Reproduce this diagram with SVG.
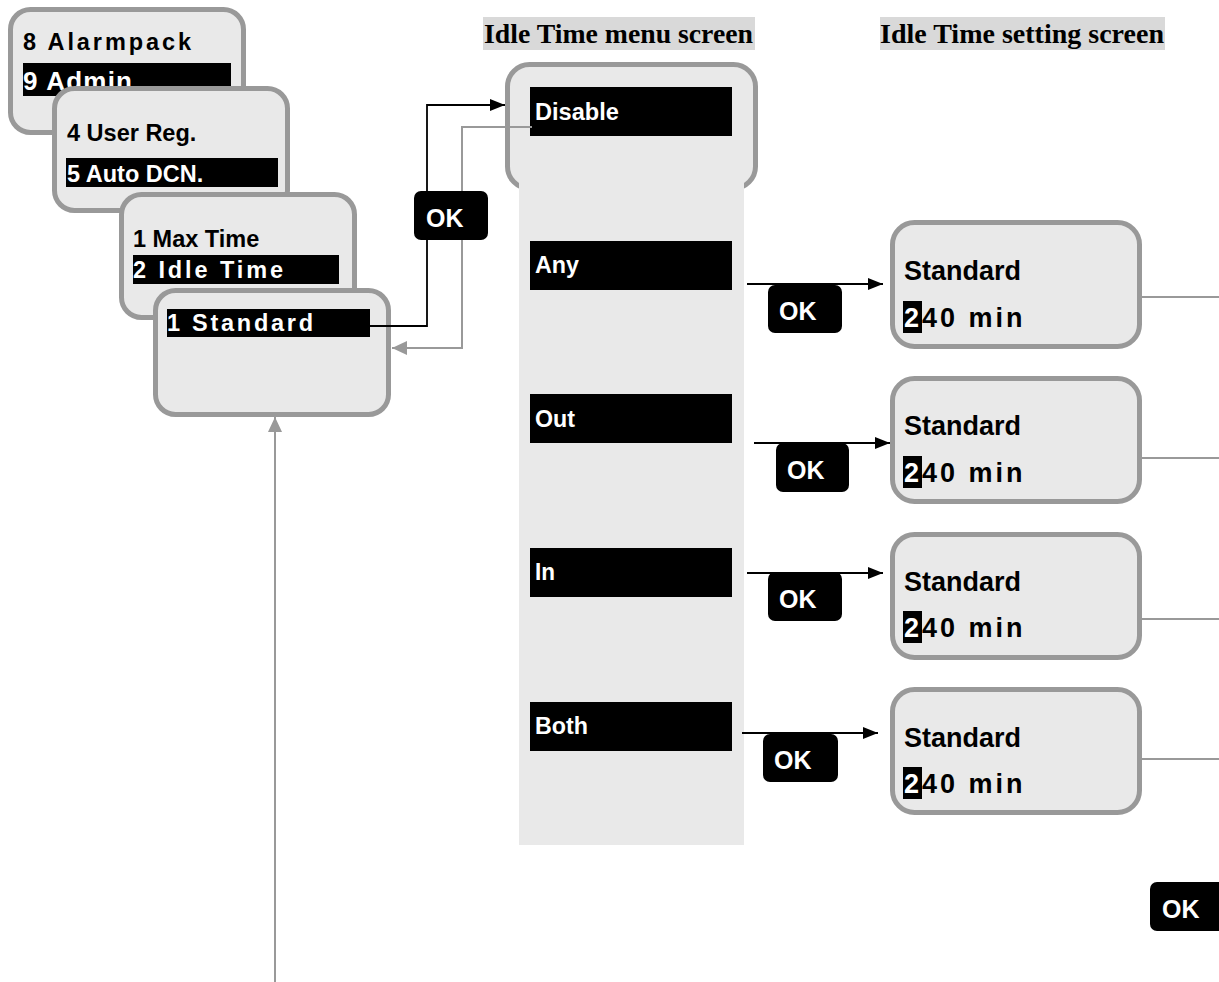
<svg xmlns="http://www.w3.org/2000/svg" width="1219" height="982" viewBox="0 0 1219 982">
<defs>
<style>
.scr{fill:#e9e9e9;stroke:#999999;stroke-width:5}
.bar{fill:#000}
.t{font-family:"Liberation Sans",Arial,sans-serif;font-weight:bold;font-size:23.5px;fill:#000}
.w{fill:#fff}
.m{font-family:"Liberation Sans",Arial,sans-serif;font-weight:bold;font-size:23px;fill:#fff}
.s{font-family:"Liberation Sans",Arial,sans-serif;font-weight:bold;font-size:27px;fill:#000}
.ttl{font-family:"Liberation Serif","Times New Roman",serif;font-weight:bold;font-size:27.5px;fill:#000}
.ok{fill:#000}
.okt{font-family:"Liberation Sans",Arial,sans-serif;font-weight:bold;font-size:25px;fill:#fff}
.blk{fill:none;stroke:#000;stroke-width:1.8}
.gry{fill:none;stroke:#999999;stroke-width:2}
</style>
<marker id="ab" viewBox="0 0 15 12" refX="15" refY="6" markerWidth="15" markerHeight="12" markerUnits="userSpaceOnUse" orient="auto">
<path d="M0,0 L15,6 L0,12 Z" fill="#000"/>
</marker>
<marker id="ag" viewBox="0 0 15 14" refX="15" refY="7" markerWidth="15" markerHeight="14" markerUnits="userSpaceOnUse" orient="auto">
<path d="M0,0 L15,7 L0,14 Z" fill="#999999"/>
</marker>
</defs>
<rect width="1219" height="982" fill="#fff"/>

<g id="title-menu">
<rect x="483" y="17" width="272" height="33" fill="#d9d9d9"/>
<text class="ttl" x="484" y="43" textLength="269" lengthAdjust="spacingAndGlyphs">Idle Time menu screen</text>
</g>
<g id="title-setting">
<rect x="880" y="17" width="285" height="33" fill="#d9d9d9"/>
<text class="ttl" x="880" y="43" textLength="284" lengthAdjust="spacingAndGlyphs">Idle Time setting screen</text>
</g>

<g id="screen-admin">
<rect class="scr" x="10.5" y="9.5" width="233" height="123" rx="20"/>
<text class="t" x="23" y="50" textLength="168" lengthAdjust="spacing">8 Alarmpack</text>
<rect class="bar" x="23" y="63" width="208" height="33"/>
<text class="t w" x="23" y="90" style="font-size:26px" textLength="109" lengthAdjust="spacing">9 Admin</text>
</g>
<g id="screen-user">
<rect class="scr" x="54.5" y="88.5" width="233" height="122" rx="20"/>
<text class="t" x="67" y="141">4 User Reg.</text>
<rect class="bar" x="66" y="158" width="212" height="29"/>
<text class="t w" x="67" y="182">5 Auto DCN.</text>
</g>
<g id="screen-dcn">
<rect class="scr" x="121.5" y="194.5" width="233" height="123" rx="20"/>
<text class="t" x="133" y="247">1 Max Time</text>
<rect class="bar" x="133" y="255" width="206" height="29"/>
<text class="t w" x="133" y="278" textLength="150" lengthAdjust="spacing">2 Idle Time</text>
</g>
<g id="screen-idle">
<rect class="scr" x="155.5" y="290.5" width="233" height="124" rx="20"/>
<rect class="bar" x="167" y="309" width="203" height="28"/>
<text class="t w" x="167" y="331" textLength="146" lengthAdjust="spacing">1 Standard</text>
</g>

<g id="menu-screen">
<rect class="scr" x="507.5" y="64.5" width="248" height="124" rx="22"/>
<rect x="519" y="172" width="225" height="673" fill="#e9e9e9"/>
<rect class="bar" x="530" y="87" width="202" height="49"/>
<text class="m" x="535" y="120" textLength="84" lengthAdjust="spacingAndGlyphs">Disable</text>
<rect class="bar" x="530" y="241" width="202" height="49"/>
<text class="m" x="535" y="273" textLength="44" lengthAdjust="spacingAndGlyphs">Any</text>
<rect class="bar" x="530" y="394" width="202" height="49"/>
<text class="m" x="535" y="427" textLength="40" lengthAdjust="spacingAndGlyphs">Out</text>
<rect class="bar" x="530" y="548" width="202" height="49"/>
<text class="m" x="535" y="580" textLength="20" lengthAdjust="spacingAndGlyphs">In</text>
<rect class="bar" x="530" y="702" width="202" height="49"/>
<text class="m" x="535" y="734" textLength="53" lengthAdjust="spacingAndGlyphs">Both</text>
</g>

<g id="setting-any">
<rect class="scr" x="892.5" y="222.5" width="247" height="124" rx="22"/>
<text class="s" x="904" y="280">Standard</text>
<rect class="bar" x="903" y="301" width="19" height="32"/>
<text class="s" x="904" y="327" letter-spacing="3"><tspan class="w">2</tspan>40 min</text>
</g>
<g id="setting-out">
<rect class="scr" x="892.5" y="378.5" width="247" height="123" rx="22"/>
<text class="s" x="904" y="435">Standard</text>
<rect class="bar" x="903" y="456" width="19" height="32"/>
<text class="s" x="904" y="482" letter-spacing="3"><tspan class="w">2</tspan>40 min</text>
</g>
<g id="setting-in">
<rect class="scr" x="892.5" y="534.5" width="247" height="123" rx="22"/>
<text class="s" x="904" y="591">Standard</text>
<rect class="bar" x="903" y="611" width="19" height="32"/>
<text class="s" x="904" y="637" letter-spacing="3"><tspan class="w">2</tspan>40 min</text>
</g>
<g id="setting-both">
<rect class="scr" x="892.5" y="689.5" width="247" height="123" rx="22"/>
<text class="s" x="904" y="747">Standard</text>
<rect class="bar" x="903" y="767" width="19" height="32"/>
<text class="s" x="904" y="793" letter-spacing="3"><tspan class="w">2</tspan>40 min</text>
</g>

<g id="connectors">
<polyline class="blk" points="370,326 427,326 427,105 505,105" marker-end="url(#ab)"/>
<polyline class="gry" points="532,127 462,127 462,348 392,348" marker-end="url(#ag)"/>
<line class="gry" x1="275" y1="982" x2="275" y2="417" marker-end="url(#ag)"/>
<line class="blk" x1="747" y1="284" x2="883" y2="284" marker-end="url(#ab)"/>
<line class="blk" x1="754" y1="443" x2="890" y2="443" marker-end="url(#ab)"/>
<line class="blk" x1="747" y1="573" x2="883" y2="573" marker-end="url(#ab)"/>
<line class="blk" x1="742" y1="733" x2="878" y2="733" marker-end="url(#ab)"/>
<line class="gry" x1="1142" y1="297" x2="1219" y2="297"/>
<line class="gry" x1="1142" y1="458" x2="1219" y2="458"/>
<line class="gry" x1="1142" y1="619" x2="1219" y2="619"/>
<line class="gry" x1="1142" y1="759" x2="1219" y2="759"/>
</g>

<g id="ok-buttons">
<g id="ok-1"><rect class="ok" x="414" y="191" width="74" height="49" rx="7"/><text class="okt" x="426" y="227">OK</text></g>
<g id="ok-any"><rect class="ok" x="768" y="285" width="74" height="48" rx="7"/><text class="okt" x="779" y="320">OK</text></g>
<g id="ok-out"><rect class="ok" x="776" y="443" width="73" height="49" rx="7"/><text class="okt" x="787" y="479">OK</text></g>
<g id="ok-in"><rect class="ok" x="768" y="572" width="74" height="49" rx="7"/><text class="okt" x="779" y="608">OK</text></g>
<g id="ok-both"><rect class="ok" x="763" y="734" width="75" height="48" rx="7"/><text class="okt" x="774" y="769">OK</text></g>
<g id="ok-bottom"><rect class="ok" x="1150" y="882" width="80" height="49" rx="7"/><text class="okt" x="1162" y="918">OK</text></g>
</g>
</svg>
